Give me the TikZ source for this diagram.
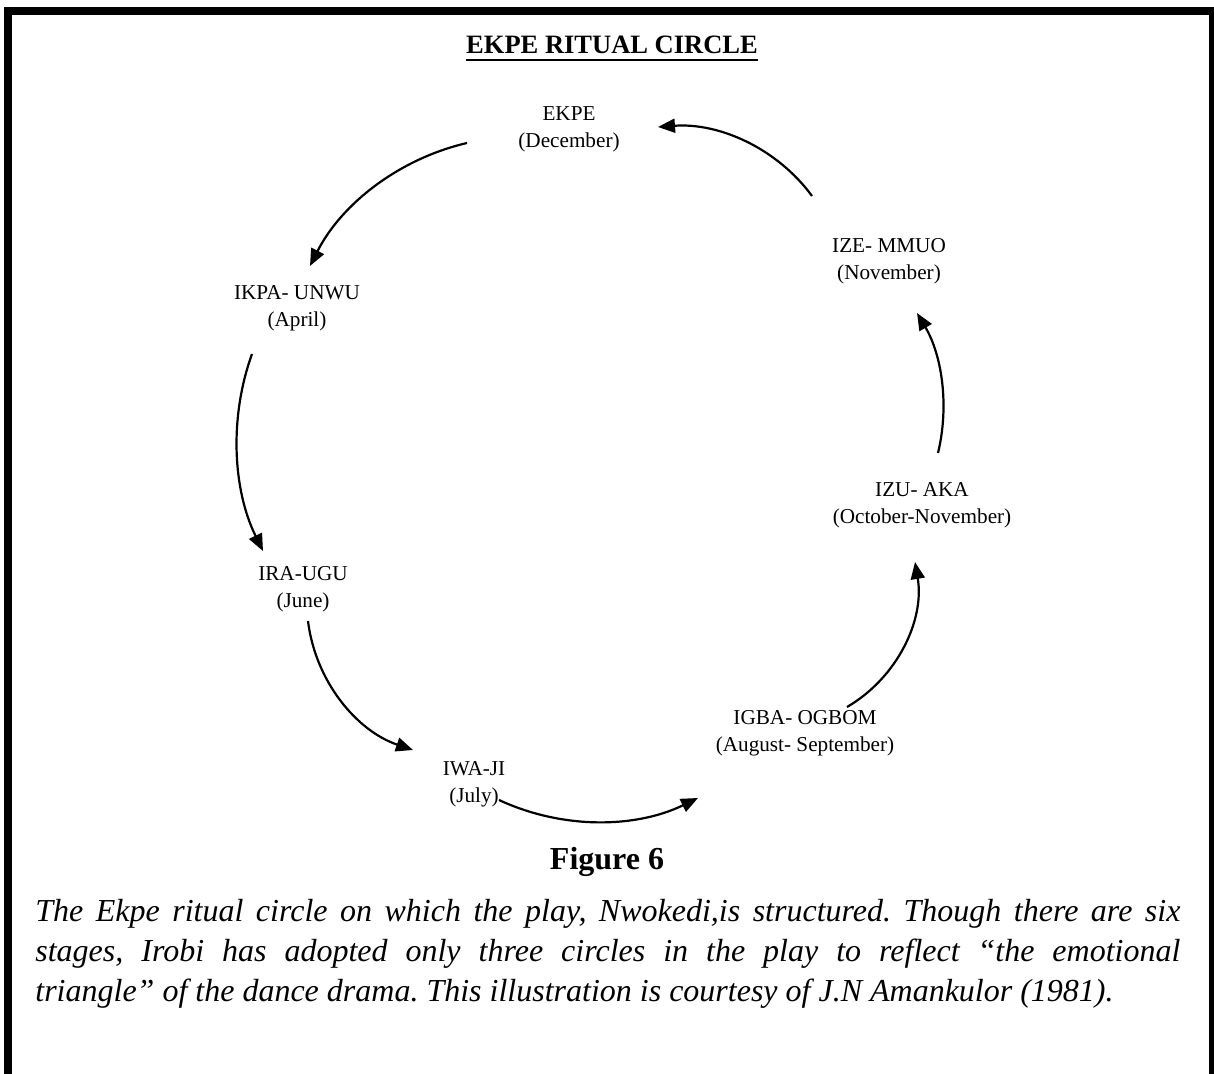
\documentclass[tikz,border=0pt]{standalone}
\usepackage{fontspec}
\setmainfont{Liberation Serif}
\usetikzlibrary{arrows.meta,calc}
\begin{document}
\frenchspacing
\begin{tikzpicture}[x=0.5pt,y=-0.5pt,
  lbl/.style={align=center,inner sep=0pt,font=\fontsize{10.6pt}{13.5pt}\selectfont},
  ttl/.style={inner sep=0pt,anchor=base,font=\fontsize{13.25pt}{16pt}\selectfont\bfseries},
  fig/.style={inner sep=0pt,anchor=base,font=\fontsize{16pt}{20pt}\selectfont\bfseries},
  capt/.style={inner sep=0pt,anchor=north west,text width=572.5pt,align=justify,
    font=\fontsize{16pt}{20pt}\selectfont\itshape},
  arr/.style={line width=1.1pt,-{Triangle[length=8.5pt,width=7pt]}},
  frame/.style={line width=4pt,line join=miter}]
\useasboundingbox (0,0) rectangle (1214,1074);
\fill[white] (0,0) rectangle (1214,1074);
\draw[frame] (8,1110) -- (8,11) -- (1213,11) -- (1213,1110);

\node[ttl] (title) at (612,54) {EKPE RITUAL CIRCLE};
\draw[line width=1pt] ($(title.base west)+(0,6)$) -- ($(title.base east)+(0,6)$);

\node[lbl] (ekpe) at (569,129.5) {EKPE\\(December)};
\node[lbl] (ikpa) at (297,308.5) {IKPA- UNWU\\(April)};
\node[lbl] (ira)  at (303,589) {IRA-UGU\\(June)};
\node[lbl] (iwa)  at (474,784) {IWA-JI\\(July)};
\node[lbl] (igba) at (805,733.5) {IGBA- OGBOM\\(August- September)};
\node[lbl] (izu)  at (922,505.5) {IZU- AKA\\(October-November)};
\node[lbl] (ize)  at (889,261.5) {IZE- MMUO\\(November)};

\coordinate (a1s) at (467,143); \coordinate (a1e) at (310,266);
\coordinate (a2s) at (252,354); \coordinate (a2e) at (263,551);
\coordinate (a3s) at (308,621); \coordinate (a3e) at (413,750);
\coordinate (a4s) at (499,800); \coordinate (a4e) at (698,798);
\coordinate (a5s) at (847,707); \coordinate (a5e) at (915,562);
\coordinate (a6s) at (938,453); \coordinate (a6e) at (917,313);
\coordinate (a7s) at (812,196); \coordinate (a7e) at (658,127);

\draw[arr] (a1s) .. controls (399.1,158.8) and (341.5,203.8) .. (a1e);
\draw[arr] (a2s) .. controls (228.9,418) and (232.9,490) .. (a2e);
\draw[arr] (a3s) .. controls (315.2,680.6) and (356.1,730.7) .. (a3e);
\draw[arr] (a4s) .. controls (562.5,829.5) and (635.4,828.4) .. (a4e);
\draw[arr] (a5s) .. controls (897.6,677.5) and (924.7,619.7) .. (a5e);
\draw[arr] (a6s) .. controls (949.5,405.4) and (941.9,355.2) .. (a6e);
\draw[arr] (a7s) .. controls (776.8,148) and (718.8,122.5) .. (a7e);

\node[fig] (figno) at (607,869) {Figure 6};
\node[capt] (cap) at (35,899) {\tolerance=10000\relax The Ekpe ritual circle on which the play, Nwokedi,is structured. Though there are six\linebreak stages, Irobi has adopted only three circles in the play to reflect “the emotional\linebreak triangle” of the dance drama. This illustration is courtesy of J.N Amankulor (1981).};
\end{tikzpicture}
\end{document}
